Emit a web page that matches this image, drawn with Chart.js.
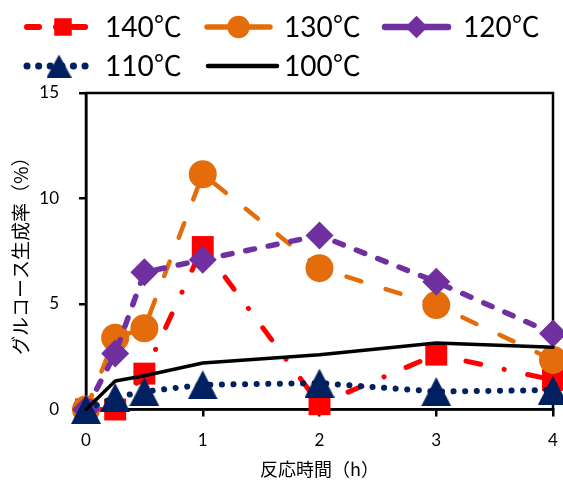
<!DOCTYPE html>
<html>
<head>
<meta charset="utf-8">
<script src="https://cdn.jsdelivr.net/npm/chart.js@4/dist/chart.umd.min.js"></script>
<style>
  html, body { margin: 0; padding: 0; background: #fff; }
  #wrap { width: 563px; height: 484px; }
</style>
</head>
<body>
<div id="wrap"><canvas id="chart" width="563" height="484"></canvas></div>
<script>
// reaction time (h)
const times = [0, 0.25, 0.5, 1, 2, 3, 4];
const labels = ['140℃', '130℃', '120℃', '110℃', '100℃'];
// glucose yield (%)
const y140 = [0, 0, 1.7, 7.7, 0.25, 2.6, 1.4];
const y130 = [0, 3.4, 3.85, 11.15, 6.7, 4.95, 2.35];
const y120 = [0, 2.65, 6.5, 7.1, 8.25, 6.05, 3.6];
const y110 = [0, 0.57, 0.85, 1.17, 1.25, 0.85, 0.92];
const y100 = [0, 1.35, 1.6, 2.2, 2.6, 3.15, 2.95];
const xTicks = [0, 1, 2, 3, 4];
const yTicks = [0, 5, 10, 15];

const NUM_FONT = "Lato, 'Noto Sans CJK JP', sans-serif";
const JP_FONT = "'Noto Sans CJK JP', sans-serif";

// excel-like triangle marker, centred on its box
function triangleImg(w, h, color) {
  const c = document.createElement('canvas');
  c.width = w; c.height = h;
  const g = c.getContext('2d');
  g.fillStyle = color;
  g.beginPath();
  g.moveTo(w / 2, 0);
  g.lineTo(w, h);
  g.lineTo(0, h);
  g.closePath();
  g.fill();
  return c;
}

function pts(arr) {
  return arr.map((v, i) => ({ x: times[i], y: v }));
}

const series = [
  { data: y140, color: '#FF0000', width: 5, dash: [15, 24, 0.1, 24], style: 'rect', r: 15.5 },
  { data: y130, color: '#E46C0A', width: 4.5, dash: [15.5, 25.5], style: 'circle', r: 14 },
  { data: y120, color: '#7030A0', width: 5.5, dash: [9, 14], style: 'rectRot', r: 14 },
  { data: y110, color: '#002060', width: 6, dash: [0.1, 11.5], style: triangleImg(30, 29, '#002060'), r: 15 },
  { data: y100, color: '#000000', width: 3.5, dash: [], style: false, r: 0 }
];

const datasets = series.map((s, i) => ({
  label: labels[i],
  data: pts(s.data),
  borderColor: s.color,
  backgroundColor: s.color,
  borderWidth: s.width,
  borderDash: s.dash,
  borderCapStyle: 'round',
  borderJoinStyle: 'round',
  pointStyle: s.style,
  pointRadius: s.r,
  pointBorderWidth: 0,
  pointHoverRadius: s.r,
  tension: 0,
  clip: false,
  order: series.length - i
}));

// top/right sides of the plot box
const frame = {
  id: 'frame',
  beforeDatasetsDraw(chart) {
    const a = chart.chartArea, ctx = chart.ctx;
    ctx.save();
    ctx.strokeStyle = '#000';
    ctx.lineWidth = 2.5;
    ctx.strokeRect(a.left, a.top, a.right - a.left, a.bottom - a.top);
    ctx.restore();
  }
};

// two-row legend with line + marker samples
const legendPos = [
  { x0: 27, x1: 99, tx: 105, y: 27 },
  { x0: 207, x1: 270, tx: 284, y: 27 },
  { x0: 385, x1: 448, tx: 463, y: 27 },
  { x0: 27, x1: 91, tx: 105, y: 66 },
  { x0: 208, x1: 277, tx: 284, y: 66 }
];
const lineLegend = {
  id: 'lineLegend',
  afterDraw(chart) {
    const ctx = chart.ctx;
    chart.data.datasets.forEach((ds, i) => {
      const p = legendPos[i];
      ctx.save();
      ctx.strokeStyle = ds.borderColor;
      ctx.lineWidth = ds.borderWidth + 1;
      ctx.lineCap = 'round';
      ctx.setLineDash(i === 0 ? [12, 17, 0.1, 17] : i === 3 ? [0.1, 11.5] : []);
      ctx.beginPath();
      ctx.moveTo(p.x0, p.y);
      ctx.lineTo(p.x1, p.y);
      ctx.stroke();
      ctx.restore();
      if (ds.pointStyle && Chart.helpers && Chart.helpers.drawPoint) {
        ctx.save();
        ctx.fillStyle = ds.backgroundColor;
        ctx.strokeStyle = ds.borderColor;
        ctx.lineWidth = 0;
        const r = i === 3 ? 13 : ds.pointRadius * 0.8;
        let style = ds.pointStyle;
        if (i === 3) style = triangleImg(25, 23, ds.borderColor);
        Chart.helpers.drawPoint(ctx, { pointStyle: style, radius: r, borderWidth: 0, rotation: 0 },
          i === 0 ? 63 : (p.x0 + p.x1) / 2, p.y);
        ctx.restore();
      }
      ctx.save();
      ctx.fillStyle = '#000';
      ctx.font = '28px ' + NUM_FONT;
      ctx.textBaseline = 'middle';
      ctx.fillText(ds.label, p.tx, p.y + 1);
      ctx.restore();
    });
  }
};

new Chart(document.getElementById('chart'), {
  type: 'line',
  data: { datasets },
  plugins: [frame, lineLegend],
  options: {
    responsive: false,
    animation: false,
    events: [],
    layout: { autoPadding: false, padding: { top: 93, right: 10, bottom: 0, left: 0 } },
    plugins: { legend: { display: false }, tooltip: { enabled: false } },
    scales: {
      x: {
        type: 'linear',
        min: 0, max: 4,
        afterFit(s) { s.height = 74.5; s.paddingRight = 0; s.paddingLeft = 0; },
        afterBuildTicks(s) { s.ticks = xTicks.map(v => ({ value: v })); },
        grid: { drawOnChartArea: false, drawTicks: true, tickLength: 7, color: '#000', lineWidth: 2.5 },
        border: { display: true, color: '#000', width: 2.5 },
        ticks: { color: '#000', padding: 14, font: { family: NUM_FONT, size: 17 } },
        title: { display: true, text: '反応時間（h）', color: '#000', padding: { top: 0, bottom: 4 },
          font: { family: JP_FONT, size: 18 } }
      },
      y: {
        min: 0, max: 15,
        afterFit(s) { s.width = 86; s.paddingTop = 0; s.paddingBottom = 0; },
        afterBuildTicks(s) { s.ticks = yTicks.map(v => ({ value: v })); },
        grid: { drawOnChartArea: false, drawTicks: true, tickLength: 7, color: '#000', lineWidth: 2.5 },
        border: { display: true, color: '#000', width: 2.5 },
        ticks: { color: '#000', padding: 20, font: { family: NUM_FONT, size: 17 } },
        title: { display: true, text: 'グルコース生成率（%）', color: '#000', padding: { top: 9, bottom: 0 },
          font: { family: JP_FONT, size: 19 } }
      }
    }
  }
});
</script>
</body>
</html>
